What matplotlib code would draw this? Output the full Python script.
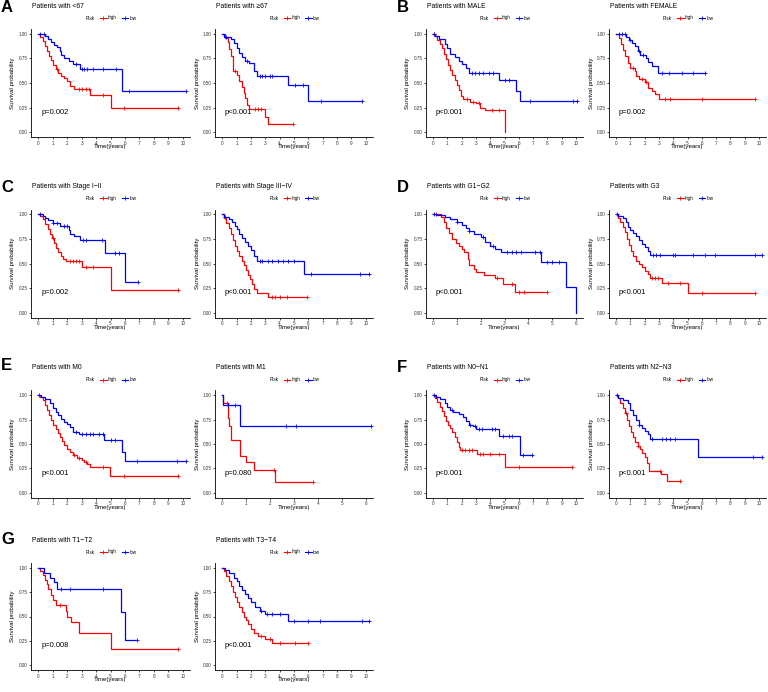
import numpy as np
import matplotlib
matplotlib.use('Agg')
import matplotlib.pyplot as plt

plt.rcParams['font.family'] = ['Liberation Sans', 'DejaVu Sans']

W, H = 768, 692
RED = '#FF0000'
BLUE = '#0000FF'

risk_labels = ['high', 'low']
ytick_vals = [0.0, 0.25, 0.5, 0.75, 1.0]
ytick_labels = ['0.00', '0.25', '0.50', '0.75', '1.00']

# ---------------- data ----------------
titles = ['Patients with <67', 'Patients with \u226567',
          'Patients with MALE', 'Patients with FEMALE',
          'Patients with Stage I\u2212II', 'Patients with Stage III\u2212IV',
          'Patients with G1\u2212G2', 'Patients with G3',
          'Patients with M0', 'Patients with M1',
          'Patients with N0\u2212N1', 'Patients with N2\u2212N3',
          'Patients with T1\u2212T2', 'Patients with T3\u2212T4']
pvals = ['p=0.002', 'p<0.001', 'p<0.001', 'p=0.002', 'p=0.002', 'p<0.001',
         'p<0.001', 'p<0.001', 'p<0.001', 'p=0.080', 'p<0.001', 'p<0.001',
         'p=0.008', 'p<0.001']
xmaxes = [10, 10, 10, 10, 10, 10, 6, 10, 10, 6, 10, 10, 10, 10]
panel_letters = ['A', 'B', 'C', 'D', 'E', 'F', 'G']

# A1 (<67)
a1_high_t = [0.15, 0.3, 0.45, 0.6, 0.75, 0.9, 1.05, 1.2, 1.4, 1.6, 1.8, 2.0, 2.2, 2.5, 3.6, 5.0]
a1_high_s = [0.97, 0.93, 0.88, 0.83, 0.78, 0.73, 0.68, 0.64, 0.60, 0.57, 0.55, 0.52, 0.47, 0.44, 0.38, 0.25]
a1_high_c = [1.3, 2.8, 3.0, 3.3, 3.5, 4.5, 5.9, 9.7]
a1_low_t = [0.5, 0.7, 0.9, 1.1, 1.3, 1.5, 1.6, 1.8, 2.1, 2.4, 2.9, 5.8]
a1_low_s = [0.98, 0.95, 0.92, 0.89, 0.87, 0.83, 0.79, 0.75, 0.72, 0.69, 0.64, 0.42]
a1_low_c = [0.1, 0.4, 2.6, 3.0, 3.2, 3.4, 3.8, 4.5, 5.4, 6.3, 10.2]
# A2 (>=67)
a2_high_t = [0.2, 0.4, 0.5, 0.6, 0.75, 1.0, 1.2, 1.35, 1.5, 1.6, 1.75, 1.9, 3.0, 3.2]
a2_high_s = [0.96, 0.92, 0.85, 0.78, 0.62, 0.58, 0.52, 0.46, 0.40, 0.35, 0.28, 0.24, 0.15, 0.08]
a2_high_c = [0.9, 2.3, 2.5, 2.7, 4.9]
a2_low_t = [0.1, 0.6, 0.8, 1.0, 1.2, 1.4, 1.6, 1.9, 2.2, 2.4, 4.6, 6.0]
a2_low_s = [0.97, 0.95, 0.91, 0.86, 0.81, 0.76, 0.72, 0.70, 0.62, 0.57, 0.48, 0.32]
a2_low_c = [0.3, 1.7, 2.6, 2.8, 3.0, 3.3, 3.5, 5.1, 5.6, 6.9, 9.7]
# B1 (MALE)
b1_high_t = [0.15, 0.3, 0.45, 0.6, 0.75, 0.9, 1.05, 1.2, 1.35, 1.5, 1.65, 1.8, 1.95, 2.1, 2.6, 3.0, 3.3, 3.6, 5.0]
b1_high_s = [0.98, 0.94, 0.90, 0.86, 0.80, 0.74, 0.68, 0.63, 0.58, 0.53, 0.48, 0.43, 0.37, 0.34, 0.31, 0.30, 0.25, 0.22, 0.0]
b1_high_c = [0.05, 2.4, 2.8, 3.2, 4.1, 4.6]
b1_low_t = [0.1, 0.4, 0.8, 1.0, 1.2, 1.5, 1.8, 2.0, 2.3, 2.5, 4.6, 5.8, 6.1]
b1_low_s = [0.98, 0.95, 0.90, 0.86, 0.80, 0.76, 0.72, 0.69, 0.65, 0.60, 0.53, 0.42, 0.32]
b1_low_c = [0.05, 2.7, 2.9, 3.2, 3.5, 3.9, 4.2, 5.0, 5.3, 6.8, 9.8, 10.1]
# B2 (FEMALE)
b2_high_t = [0.2, 0.35, 0.5, 0.65, 0.8, 1.0, 1.3, 1.4, 1.6, 2.0, 2.2, 2.5, 2.7, 3.0]
b2_high_s = [0.96, 0.90, 0.84, 0.77, 0.70, 0.65, 0.62, 0.57, 0.54, 0.51, 0.45, 0.42, 0.39, 0.34]
b2_high_c = [1.2, 1.8, 2.1, 3.4, 3.8, 6.0, 9.7]
b2_low_t = [0.7, 0.9, 1.1, 1.3, 1.5, 1.7, 2.1, 2.2, 2.5, 2.9]
b2_low_s = [0.97, 0.94, 0.91, 0.88, 0.83, 0.79, 0.75, 0.71, 0.67, 0.60]
b2_low_c = [0.2, 0.4, 0.6, 1.0, 1.6, 1.9, 3.2, 3.7, 4.6, 5.4, 6.2]
# C1 (Stage I-II)
c1_high_t = [0.1, 0.35, 0.5, 0.65, 0.8, 0.95, 1.1, 1.25, 1.4, 1.55, 1.7, 1.9, 3.0, 5.0]
c1_high_s = [0.98, 0.95, 0.90, 0.85, 0.80, 0.76, 0.71, 0.66, 0.62, 0.58, 0.55, 0.53, 0.46, 0.23]
c1_high_c = [1.0, 2.2, 2.4, 2.6, 2.8, 3.3, 3.8, 9.7]
c1_low_t = [0.3, 0.5, 0.7, 1.0, 1.5, 2.1, 2.2, 2.5, 2.9, 4.6, 6.0]
c1_low_s = [0.98, 0.96, 0.94, 0.91, 0.88, 0.84, 0.80, 0.78, 0.74, 0.61, 0.31]
c1_low_c = [0.1, 1.0, 1.3, 1.8, 2.0, 3.1, 3.3, 4.4, 5.3, 5.6, 6.9]
# C2 (Stage III-IV)
c2_high_t = [0.15, 0.3, 0.45, 0.6, 0.75, 0.9, 1.05, 1.2, 1.35, 1.5, 1.65, 1.8, 1.95, 2.1, 2.2, 2.4, 3.2]
c2_high_s = [0.96, 0.91, 0.86, 0.80, 0.74, 0.68, 0.63, 0.58, 0.53, 0.48, 0.43, 0.38, 0.34, 0.29, 0.24, 0.20, 0.16]
c2_high_c = [3.5, 3.7, 4.0, 4.5, 5.9]
c2_low_t = [0.1, 0.5, 0.7, 0.9, 1.0, 1.2, 1.4, 1.6, 1.8, 2.0, 2.2, 2.4, 5.7]
c2_low_s = [0.97, 0.95, 0.92, 0.88, 0.85, 0.80, 0.76, 0.72, 0.68, 0.64, 0.58, 0.53, 0.39]
c2_low_c = [0.2, 2.6, 2.8, 3.2, 3.5, 3.9, 4.2, 4.6, 5.0, 6.2, 9.6, 10.2]
# D1 (G1-G2)
d1_high_t = [0.35, 0.45, 0.55, 0.65, 0.8, 0.95, 1.1, 1.2, 1.3, 1.45, 1.5, 1.7, 1.8, 2.15, 2.6, 2.95, 3.45]
d1_high_s = [0.97, 0.92, 0.86, 0.81, 0.75, 0.71, 0.68, 0.65, 0.62, 0.55, 0.48, 0.44, 0.41, 0.38, 0.35, 0.29, 0.21]
d1_high_c = [0.1, 2.7, 3.3, 3.6, 3.8, 4.8]
d1_low_t = [0.1, 0.5, 0.7, 1.0, 1.2, 1.4, 1.5, 1.7, 2.0, 2.2, 2.4, 2.6, 2.85, 4.55, 5.6, 6.0]
d1_low_s = [0.99, 0.97, 0.95, 0.92, 0.89, 0.86, 0.83, 0.80, 0.77, 0.72, 0.68, 0.65, 0.62, 0.52, 0.26, 0.0]
d1_low_c = [0.05, 1.0, 1.5, 2.1, 2.5, 3.1, 3.3, 3.5, 3.7, 4.3, 4.5, 4.8, 5.0, 5.3]
# D2 (G3)
d2_high_t = [0.15, 0.3, 0.45, 0.6, 0.75, 0.9, 1.05, 1.2, 1.4, 1.6, 1.8, 2.0, 2.2, 2.35, 3.2, 5.0]
d2_high_s = [0.96, 0.92, 0.87, 0.82, 0.75, 0.69, 0.63, 0.58, 0.53, 0.49, 0.46, 0.42, 0.39, 0.35, 0.30, 0.20]
d2_high_c = [2.5, 2.7, 2.9, 3.6, 4.5, 6.0, 9.7]
d2_low_t = [0.1, 0.5, 0.7, 0.85, 1.0, 1.2, 1.4, 1.6, 1.8, 2.0, 2.2, 2.4]
d2_low_s = [0.98, 0.96, 0.92, 0.87, 0.84, 0.81, 0.78, 0.74, 0.70, 0.67, 0.63, 0.59]
d2_low_c = [0.05, 2.6, 2.8, 3.1, 4.0, 4.1, 5.4, 6.2, 6.9, 9.7, 10.2]
# E1 (M0)
e1_high_t = [0.15, 0.3, 0.45, 0.6, 0.75, 0.9, 1.05, 1.2, 1.35, 1.5, 1.65, 1.8, 2.0, 2.2, 2.4, 2.7, 3.0, 3.2, 3.4, 3.6, 4.95]
e1_high_s = [0.98, 0.95, 0.90, 0.85, 0.80, 0.75, 0.70, 0.65, 0.61, 0.57, 0.53, 0.49, 0.45, 0.42, 0.39, 0.36, 0.34, 0.31, 0.29, 0.26, 0.17]
e1_high_c = [2.5, 2.8, 3.3, 4.5, 5.9, 9.7]
e1_low_t = [0.2, 0.5, 0.8, 1.0, 1.2, 1.4, 1.6, 1.8, 2.0, 2.2, 2.4, 2.8, 4.56, 5.8, 6.0]
e1_low_s = [0.98, 0.96, 0.92, 0.87, 0.83, 0.80, 0.76, 0.73, 0.71, 0.67, 0.62, 0.60, 0.54, 0.42, 0.33]
e1_low_c = [0.05, 2.6, 3.0, 3.3, 3.6, 3.8, 4.2, 4.5, 5.0, 5.3, 6.8, 9.6, 10.2]
# E2 (M1)
e2_high_t = [0.03, 0.23, 0.3, 0.36, 0.76, 1.0, 1.31, 2.2]
e2_high_s = [0.92, 0.77, 0.69, 0.54, 0.38, 0.31, 0.23, 0.11]
e2_high_c = [0.2, 2.15, 3.8]
e2_low_t = [0.03, 0.73]
e2_low_s = [0.90, 0.68]
e2_low_c = [0.25, 0.55, 2.65, 3.1, 6.2]
# F1 (N0-N1)
f1_high_t = [0.15, 0.3, 0.45, 0.6, 0.75, 0.9, 1.05, 1.2, 1.35, 1.5, 1.65, 1.8, 1.9, 3.05, 5.0]
f1_high_s = [0.97, 0.93, 0.88, 0.84, 0.79, 0.74, 0.70, 0.66, 0.62, 0.57, 0.52, 0.47, 0.44, 0.40, 0.26]
f1_high_c = [2.0, 2.2, 2.5, 2.7, 3.3, 3.5, 4.0, 4.6, 6.0, 9.7]
f1_low_t = [0.2, 0.5, 0.8, 1.0, 1.2, 1.4, 1.8, 2.1, 2.3, 2.5, 2.8, 3.0, 4.63, 6.12]
f1_low_s = [0.98, 0.96, 0.92, 0.88, 0.85, 0.83, 0.81, 0.78, 0.74, 0.70, 0.68, 0.65, 0.58, 0.39]
f1_low_c = [0.05, 1.3, 2.6, 2.9, 3.2, 3.4, 4.1, 4.3, 4.9, 5.3, 5.5, 6.3, 6.9]
# F2 (N2-N3)
f2_high_t = [0.15, 0.3, 0.45, 0.6, 0.75, 0.9, 1.05, 1.2, 1.35, 1.5, 1.65, 1.8, 2.0, 2.15, 2.3, 3.13, 3.59]
f2_high_s = [0.97, 0.92, 0.87, 0.82, 0.75, 0.69, 0.62, 0.57, 0.52, 0.48, 0.45, 0.41, 0.37, 0.30, 0.22, 0.19, 0.12]
f2_high_c = [0.7, 1.5, 3.1, 4.5]
f2_low_t = [0.1, 0.5, 0.8, 1.0, 1.2, 1.4, 1.6, 1.8, 2.0, 2.2, 2.4, 5.72]
f2_low_s = [0.97, 0.95, 0.92, 0.85, 0.80, 0.75, 0.70, 0.66, 0.63, 0.60, 0.555, 0.37]
f2_low_c = [0.05, 1.6, 2.5, 3.2, 3.5, 3.8, 4.1, 9.6, 10.2]
# G1 (T1-T2)
g1_high_t = [0.1, 0.3, 0.5, 0.6, 0.7, 0.9, 1.0, 1.2, 1.9, 2.0, 2.3, 2.8, 5.0]
g1_high_s = [0.97, 0.93, 0.88, 0.83, 0.78, 0.72, 0.67, 0.62, 0.56, 0.50, 0.44, 0.33, 0.17]
g1_high_c = [1.5, 9.7]
g1_low_t = [0.4, 0.8, 1.1, 1.3, 5.7, 6.0]
g1_low_s = [0.95, 0.90, 0.85, 0.78, 0.55, 0.26]
g1_low_c = [1.6, 2.2, 4.5, 6.8]
# G2 (T3-T4)
g2_high_t = [0.15, 0.3, 0.45, 0.6, 0.75, 0.9, 1.05, 1.2, 1.35, 1.5, 1.65, 1.8, 2.0, 2.2, 2.5, 3.0, 3.5]
g2_high_s = [0.97, 0.92, 0.87, 0.81, 0.75, 0.70, 0.65, 0.60, 0.55, 0.50, 0.46, 0.42, 0.37, 0.33, 0.30, 0.27, 0.23]
g2_high_c = [2.7, 3.3, 4.0, 5.1, 6.0]
g2_low_t = [0.2, 0.5, 0.8, 1.0, 1.2, 1.4, 1.6, 1.8, 2.0, 2.3, 2.6, 3.0, 4.6]
g2_low_s = [0.98, 0.95, 0.90, 0.86, 0.81, 0.77, 0.73, 0.69, 0.65, 0.60, 0.56, 0.53, 0.45]
g2_low_c = [2.7, 3.1, 3.5, 4.0, 5.0, 6.0, 6.8, 9.7, 10.2]

series = [
    ((a1_high_t, a1_high_s, a1_high_c), (a1_low_t, a1_low_s, a1_low_c)),
    ((a2_high_t, a2_high_s, a2_high_c), (a2_low_t, a2_low_s, a2_low_c)),
    ((b1_high_t, b1_high_s, b1_high_c), (b1_low_t, b1_low_s, b1_low_c)),
    ((b2_high_t, b2_high_s, b2_high_c), (b2_low_t, b2_low_s, b2_low_c)),
    ((c1_high_t, c1_high_s, c1_high_c), (c1_low_t, c1_low_s, c1_low_c)),
    ((c2_high_t, c2_high_s, c2_high_c), (c2_low_t, c2_low_s, c2_low_c)),
    ((d1_high_t, d1_high_s, d1_high_c), (d1_low_t, d1_low_s, d1_low_c)),
    ((d2_high_t, d2_high_s, d2_high_c), (d2_low_t, d2_low_s, d2_low_c)),
    ((e1_high_t, e1_high_s, e1_high_c), (e1_low_t, e1_low_s, e1_low_c)),
    ((e2_high_t, e2_high_s, e2_high_c), (e2_low_t, e2_low_s, e2_low_c)),
    ((f1_high_t, f1_high_s, f1_high_c), (f1_low_t, f1_low_s, f1_low_c)),
    ((f2_high_t, f2_high_s, f2_high_c), (f2_low_t, f2_low_s, f2_low_c)),
    ((g1_high_t, g1_high_s, g1_high_c), (g1_low_t, g1_low_s, g1_low_c)),
    ((g2_high_t, g2_high_s, g2_high_c), (g2_low_t, g2_low_s, g2_low_c)),
]

# ---------------- layout (pixels) ----------------
col_left = [31, 215, 426, 609]
col_width = [159, 158, 157, 157]
row_top = [29, 209.5, 390.5, 563]
row_height = [108, 108, 107, 107]
letter_pos = [(1, 8), (397, 8), (1, 187), (397, 187), (1, 366), (397, 367), (1, 540)]

fig = plt.figure(figsize=(W / 100, H / 100), dpi=100)


def fx(px):
    return px / W


def fy(py):
    return 1 - py / H


def surv_at(t, s, x):
    t = np.asarray(t, float)
    s = np.asarray(s, float)
    idx = np.searchsorted(t, np.asarray(x, float), side='right') - 1
    return np.where(idx >= 0, s[np.maximum(idx, 0)], 1.0)


for i, (ser, title, pv, xm) in enumerate(zip(series, titles, pvals, xmaxes)):
    r, cidx = divmod(i, 4)
    left, width = col_left[cidx], col_width[cidx]
    top, height = row_top[r], row_height[r]
    ax = fig.add_axes([fx(left), fy(top + height), width / W, height / H])
    for (t, s, c), col in zip(ser, [RED, BLUE]):
        end = max(max(t), max(c))
        xs = np.concatenate([[0.0], t, [end]])
        ys = np.concatenate([[1.0], s, [s[-1]]])
        ax.step(xs, ys, where='post', color=col, lw=0.9, solid_joinstyle='miter')
        ax.plot(c, surv_at(t, s, c), ls='none', marker='+', color=col, ms=3.2, mew=0.6)
    ax.set_xlim(-0.05 * xm, 1.05 * xm)
    ax.set_ylim(-0.05, 1.05)
    ax.set_xticks(np.arange(0, int(xm) + 1))
    ax.set_yticks(ytick_vals)
    ax.set_yticklabels(ytick_labels)
    for sp in ['top', 'right']:
        ax.spines[sp].set_visible(False)
    for sp in ['left', 'bottom']:
        ax.spines[sp].set_linewidth(0.6)
    ax.tick_params(axis='both', direction='out', length=1.6, width=0.5, pad=1.0,
                   labelsize=3.3, labelcolor='#333333')
    ax.set_xlabel('Time(years)', fontsize=4.4, va='center')
    ax.xaxis.set_label_coords(0.5, -9.7 / height)
    ax.set_ylabel('Survival probability', fontsize=4.4, va='center')
    ax.yaxis.set_label_coords(-18 / width, 0.5)
    ax.text(0.063, 0.2, pv, transform=ax.get_yaxis_transform(), fontsize=5.4,
            ha='left', va='center')
    # title
    fig.text(fx(left + 1), fy(top - 23), title, fontsize=4.9, ha='left', va='center')
    # legend
    cx = left + width / 2
    ly = fy(top - 11)
    fig.text(fx(cx - 24.5), ly, 'Risk', fontsize=3.3, ha='left', va='center')
    for k, (lab, col) in enumerate(zip(risk_labels, [RED, BLUE])):
        x0 = cx - 10.5 + k * 21.5
        fig.add_artist(plt.Line2D([fx(x0), fx(x0 + 6.5)], [ly, ly], color=col, lw=0.8))
        fig.add_artist(plt.Line2D([fx(x0 + 3.25)], [ly], color=col, marker='+',
                                  ms=2.8, mew=0.6, ls='none'))
        fig.text(fx(x0 + 7.8), ly, lab, fontsize=3.3, ha='left', va='center')

for letter, (lx, ly) in zip(panel_letters, letter_pos):
    fig.text(fx(lx), fy(ly), letter, fontsize=12, fontweight='bold', ha='left', va='center')

fig.savefig('out.png', dpi=100)
